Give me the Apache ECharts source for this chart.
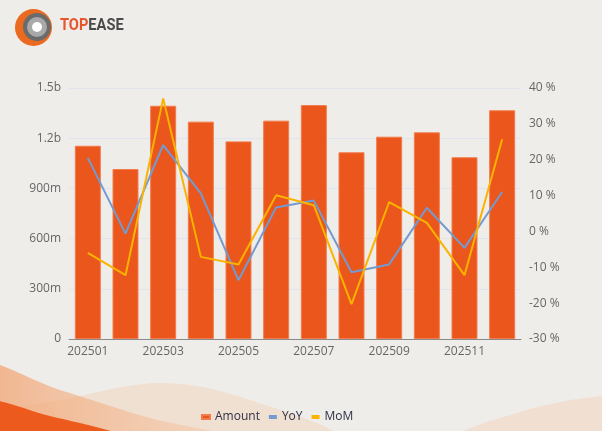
<!DOCTYPE html>
<html>
<head>
<meta charset="utf-8">
<script src="https://cdn.jsdelivr.net/npm/echarts@6/dist/echarts.min.js"></script>
<style>
html, body { margin: 0; padding: 0; background: #efedea; }
#chart { width: 602px; height: 431px; }
</style>
</head>
<body>
<div id="chart"></div>
<script>
// monthly data
const months = ['202501', '202502', '202503', '202504', '202505', '202506',
	'202507', '202508', '202509', '202510', '202511', '202512']
const amount = [1155e6, 1016e6, 1394e6, 1299e6, 1181e6, 1305e6,
	1398e6, 1116e6, 1209e6, 1235e6, 1086e6, 1367e6]
const yoy = [20.5, -0.6, 24.1, 10.6, -13.6, 6.7, 8.6, -11.4, -9.2, 6.6, -4.6, 11.0]
const mom = [-6.0, -12.2, 37.1, -7.1, -9.2, 10.1, 7.3, -20.3, 8.2, 2.4, -12.2, 25.7]

const chart = echarts.init(document.getElementById('chart'))

function fmtAmount(v) {
	if (v === 0) return '0'
	if (v >= 1e9) return (v / 1e9) + 'b'
	return (v / 1e6) + 'm'
}

// decorative background waves (not data)
function wave(points, fill, z) {
	return {
		type: 'polygon', z: z, silent: true,
		shape: { points: points, smooth: 0.35 },
		style: { fill: fill }
	}
}

const option = {
	backgroundColor: '#efedea',
	textStyle: { fontFamily: '"Open Sans", "Noto Sans", sans-serif' },
	graphic: [
		wave([[-40, 425], [70, 398], [165, 383], [250, 400], [340, 440], [200, 470], [-40, 470]],
			'rgba(244,200,165,0.35)', -10),
		wave([[440, 445], [520, 412], [602, 396], [640, 400], [640, 470], [460, 470]],
			'rgba(245,205,175,0.4)', -10),
		wave([[-30, 364], [60, 390], [150, 418], [260, 445], [120, 470], [-30, 470]],
			new echarts.graphic.LinearGradient(0, 0, 1, 0, [
				{ offset: 0, color: 'rgba(242,145,85,0.7)' },
				{ offset: 1, color: 'rgba(246,190,150,0.25)' }
			]), -9),
		wave([[-30, 402], [50, 416], [130, 442], [40, 470], [-30, 470]], '#ec5a1e', -8),
		// logo
		{ type: 'circle', left: 15, top: 9, shape: { r: 18.5 }, style: { fill: '#ea6a1f' } },
		{ type: 'circle', left: 23, top: 13, shape: { r: 14 }, style: { fill: '#6b6b6b' } },
		{ type: 'circle', left: 27, top: 17, shape: { r: 10 }, style: { fill: '#a9a9a9' } },
		{ type: 'circle', left: 32, top: 22, shape: { r: 5 }, style: { fill: '#ffffff' } },
		{
			type: 'text', left: 60, top: 17, scaleX: 0.86,
			style: {
				text: '{a|TOP}{b|EASE}',
				rich: {
					a: { fill: '#e8552a', fontSize: 17, fontWeight: 'bold', fontFamily: 'Roboto, sans-serif' },
					b: { fill: '#4a4a4a', fontSize: 17, fontWeight: 'bold', fontFamily: 'Roboto, sans-serif' }
				}
			}
		}
	],
	legend: {
		left: 196,
		top: 406,
		itemWidth: 8,
		itemHeight: 4,
		itemGap: 9,
		textStyle: { color: '#2f3146', fontSize: 12 },
		data: [
			{ name: 'Amount', icon: 'rect' },
			{ name: 'YoY', icon: 'rect' },
			{ name: 'MoM', icon: 'rect' }
		]
	},
	grid: { left: 69, right: 81, top: 88, bottom: 92 },
	xAxis: {
		type: 'category',
		data: months,
		axisTick: { show: false },
		axisLine: { lineStyle: { color: '#8a8a8a' } },
		axisLabel: { color: '#666', fontSize: 12, interval: 1, margin: 7 }
	},
	yAxis: [
		{
			type: 'value',
			min: 0,
			max: 1.5e9,
			interval: 3e8,
			axisLabel: { color: '#666', fontSize: 12, formatter: fmtAmount },
			splitLine: { lineStyle: { color: '#dfe4ee' } }
		},
		{
			type: 'value',
			min: -30,
			max: 40,
			interval: 10,
			axisLabel: { color: '#666', fontSize: 12, formatter: '{value} %' },
			splitLine: { show: false }
		}
	],
	series: [
		{
			name: 'Amount',
			type: 'bar',
			data: amount,
			barCategoryGap: '31%',
			itemStyle: { color: '#ea561b', borderColor: '#f27c4c', borderWidth: 1 }
		},
		{
			name: 'YoY',
			type: 'line',
			yAxisIndex: 1,
			data: yoy,
			showSymbol: false,
			itemStyle: { color: '#739bd0' },
			lineStyle: { color: '#739bd0', width: 2 }
		},
		{
			name: 'MoM',
			type: 'line',
			yAxisIndex: 1,
			data: mom,
			showSymbol: false,
			itemStyle: { color: '#f9b300' },
			lineStyle: { color: '#f9b300', width: 2 }
		}
	]
}

chart.setOption(option)
</script>
</body>
</html>
